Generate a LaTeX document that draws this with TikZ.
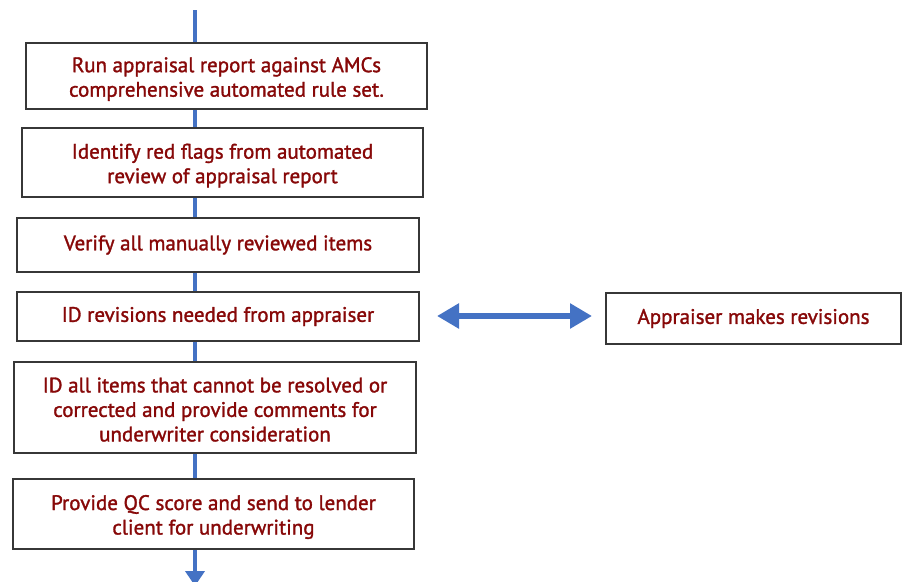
\documentclass[tikz,border=0pt]{standalone}
\usepackage{fontspec}
\setmainfont{PT Sans}[FakeBold=1.4]
\usetikzlibrary{arrows.meta}
\definecolor{txtred}{RGB}{135,8,8}
\definecolor{flowblue}{RGB}{68,114,196}
\definecolor{boxgray}{RGB}{55,55,55}
\newcommand{\lowerstrut}{\rule{0pt}{21pt}}
\begin{document}
\begin{tikzpicture}[x=1pt,y=-1pt,
  stepbox/.style={draw=boxgray, line width=1.3pt, fill=white, inner sep=0pt, align=center,
    text=txtred, font=\fontsize{21}{24.5}\selectfont},
  flow/.style={draw=flowblue, line width=4.5pt},
]
\useasboundingbox (0,0) rectangle (902,581);
\coordinate (top) at (195,10);
\coordinate (bot) at (195,586);
\draw[flow, -{Triangle[width=19pt,length=15pt]}] (top) -- (bot);

\node[stepbox, minimum width=401pt, minimum height=66pt] (b1) at (226.5,76)
  {\lowerstrut Run appraisal report against AMCs\\comprehensive automated rule set.};
\node[stepbox, minimum width=401pt, minimum height=69pt] (b2) at (222.5,162.5)
  {\lowerstrut Identify red flags from automated\\review of appraisal report};
\node[stepbox, minimum width=402pt, minimum height=54pt] (b3) at (218,245)
  {Verify all manually reviewed items};
\node[stepbox, minimum width=402pt, minimum height=49pt] (b4) at (218,316.5)
  {ID revisions needed from appraiser};
\node[stepbox, minimum width=402pt, minimum height=91pt] (b5) at (215,407.5)
  {\rule{0pt}{19pt}ID all items that cannot be resolved or\\corrected and provide comments for\\underwriter consideration};
\node[stepbox, minimum width=401pt, minimum height=70pt] (b6) at (213.5,514)
  {\lowerstrut Provide QC score and send to lender\\client for underwriting};
\node[stepbox, minimum width=295pt, minimum height=51pt] (r) at (753.5,318.5)
  {Appraiser makes revisions};

\coordinate (dl) at (437,316);
\coordinate (dr) at (592,316);
\draw[draw=flowblue, line width=6pt, {Triangle[width=24pt,length=22pt]}-{Triangle[width=24pt,length=22pt]}] (dl) -- (dr);
\end{tikzpicture}
\end{document}
